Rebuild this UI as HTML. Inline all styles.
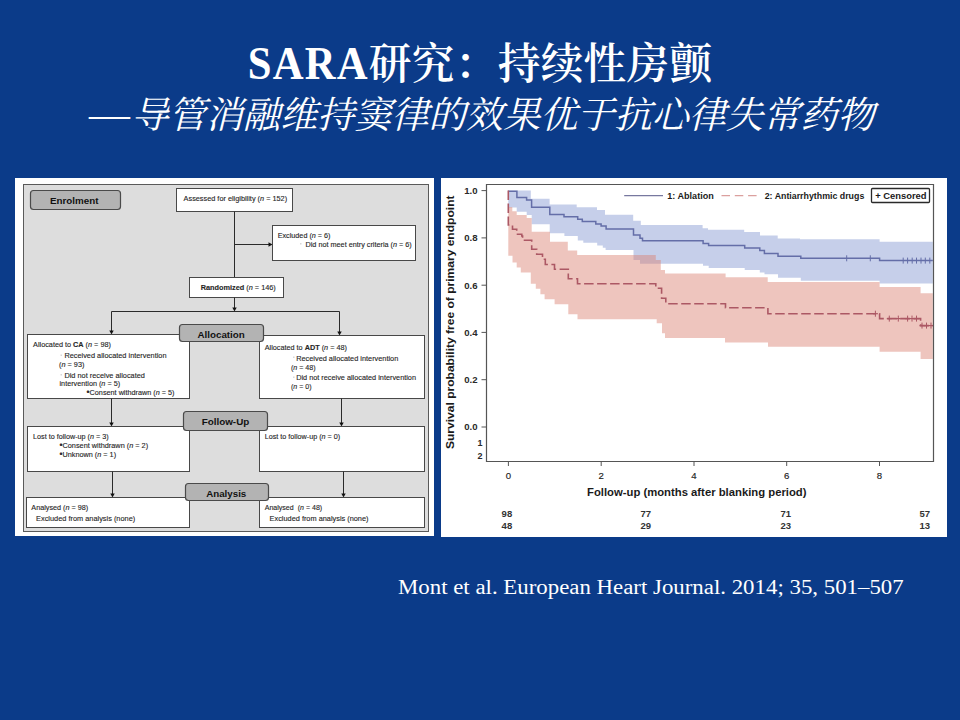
<!DOCTYPE html>
<html><head><meta charset="utf-8"><title>SARA研究：持续性房颤</title>
<style>
html,body{margin:0;padding:0;}
body{width:960px;height:720px;background:#0b3b89;position:relative;overflow:hidden;}
.t1{position:absolute;top:0;color:#fff;font-size:42.67px;line-height:1;white-space:nowrap;}
.t1 .lat{font-family:"Liberation Serif",serif;font-weight:bold;letter-spacing:1.25px;display:inline-block;transform:scaleY(1.07);transform-origin:0 35.7px;}
.t1 .cjk{font-family:"Noto Serif CJK SC",serif;font-weight:600;letter-spacing:0.3px;}
.t2 .dash{display:inline-block;transform:translateY(-1.5px) scaleX(1.235);transform-origin:0 50%;margin-right:9.8px;}
.t2{position:absolute;top:0;color:#fff;font-size:37.33px;line-height:1;font-style:italic;letter-spacing:-0.17px;white-space:nowrap;font-family:"Liberation Serif","Noto Serif CJK SC",serif;}
.cite{position:absolute;left:398.4px;top:0;color:#fff;font-family:"Liberation Serif",serif;font-size:21.6px;transform:scaleX(1.058);transform-origin:0 0;white-space:nowrap;line-height:1;}
svg{position:absolute;left:0;top:0;}
svg text{font-family:"Liberation Sans",Arial,sans-serif;}
</style></head>
<body>
<div class="t1" style="top:40px;left:247.7px"><span class="lat">SARA</span><span class="cjk">研究：持续性房颤</span></div>
<div class="t2" style="top:97px;left:88.5px"><span class="dash">—</span>导管消融维持窦律的效果优于抗心律失常药物</div>
<svg width="960" height="720" viewBox="0 0 960 720">
<rect x="15" y="178" width="419" height="358" rx="0" fill="#ffffff" stroke="none" stroke-width="0"/>
<rect x="23.5" y="184.5" width="405" height="347" rx="0" fill="#dddddd" stroke="#5a5a5a" stroke-width="1"/>
<rect x="30.5" y="190.5" width="90" height="19" rx="3" fill="#b3b3b3" stroke="#4a4a4a" stroke-width="1.2"/>
<text x="50" y="203.7" font-size="9.4" font-weight="bold" text-anchor="start" fill="#111" textLength="48.5" lengthAdjust="spacingAndGlyphs">Enrolment</text>
<rect x="176.5" y="188.5" width="116" height="23" rx="0" fill="#fff" stroke="#484848" stroke-width="1"/>
<text x="183.6" y="200.9" font-size="7.3" font-weight="normal" text-anchor="start" fill="#262626" textLength="103.5" lengthAdjust="spacingAndGlyphs" stroke="#262626" stroke-width="0.12">Assessed for eligibility (<tspan font-style="italic">n</tspan> = 152)</text>
<line x1="234.5" y1="211.5" x2="234.5" y2="277.5" stroke="#2a2a2a" stroke-width="1"/>
<line x1="234.5" y1="244.5" x2="269.5" y2="244.5" stroke="#2a2a2a" stroke-width="1"/><path d="M268.5 242.3 L268.5 246.7 L272.5 244.5 Z" fill="#111"/>
<rect x="272.5" y="225.5" width="143" height="35" rx="0" fill="#fff" stroke="#484848" stroke-width="1"/>
<text x="277.7" y="238.4" font-size="7.3" font-weight="normal" text-anchor="start" fill="#262626" textLength="52.8" lengthAdjust="spacingAndGlyphs" stroke="#262626" stroke-width="0.12">Excluded (<tspan font-style="italic">n</tspan> = 6)</text>
<text x="305.5" y="247.4" font-size="7.3" font-weight="normal" text-anchor="start" fill="#262626" textLength="106.3" lengthAdjust="spacingAndGlyphs" stroke="#262626" stroke-width="0.12">Did not meet entry criteria (<tspan font-style="italic">n</tspan> = 6)</text>
<rect x="189.5" y="277.5" width="94" height="20" rx="0" fill="#fff" stroke="#484848" stroke-width="1"/>
<text x="200.7" y="290.1" font-size="7.3" font-weight="normal" text-anchor="start" fill="#262626" textLength="75.1" lengthAdjust="spacingAndGlyphs" stroke="#262626" stroke-width="0.12"><tspan font-weight="bold">Randomized</tspan> (<tspan font-style="italic">n</tspan> = 146)</text>
<line x1="234.5" y1="297.5" x2="234.5" y2="308.5" stroke="#2a2a2a" stroke-width="1"/><path d="M232.3 307.5 L236.7 307.5 L234.5 311.5 Z" fill="#111"/>
<line x1="111.5" y1="311.5" x2="339.5" y2="311.5" stroke="#2a2a2a" stroke-width="1"/>
<line x1="111.5" y1="311.5" x2="111.5" y2="331.5" stroke="#2a2a2a" stroke-width="1"/><path d="M109.3 330.5 L113.7 330.5 L111.5 334.5 Z" fill="#111"/>
<line x1="339.5" y1="311.5" x2="339.5" y2="332.5" stroke="#2a2a2a" stroke-width="1"/><path d="M337.3 331.5 L341.7 331.5 L339.5 335.5 Z" fill="#111"/>
<rect x="27.5" y="334.5" width="162" height="64" rx="0" fill="#fff" stroke="#484848" stroke-width="1"/>
<rect x="259.5" y="335.5" width="165" height="63" rx="0" fill="#fff" stroke="#484848" stroke-width="1"/>
<rect x="179.5" y="324.5" width="84" height="17" rx="3" fill="#b3b3b3" stroke="#4a4a4a" stroke-width="1.2"/>
<text x="197.5" y="337.6" font-size="9.4" font-weight="bold" text-anchor="start" fill="#111" textLength="47.3" lengthAdjust="spacingAndGlyphs">Allocation</text>
<text x="33.1" y="347.4" font-size="7.3" font-weight="normal" text-anchor="start" fill="#262626" textLength="77.8" lengthAdjust="spacingAndGlyphs" stroke="#262626" stroke-width="0.12">Allocated to <tspan font-weight="bold">CA</tspan> (<tspan font-style="italic">n</tspan> = 98)</text>
<text x="64.4" y="358" font-size="7.3" font-weight="normal" text-anchor="start" fill="#262626" textLength="102.1" lengthAdjust="spacingAndGlyphs" stroke="#262626" stroke-width="0.12">Received allocated intervention</text>
<text x="59.1" y="366.9" font-size="7.3" font-weight="normal" text-anchor="start" fill="#262626" textLength="25.3" lengthAdjust="spacingAndGlyphs" stroke="#262626" stroke-width="0.12">(<tspan font-style="italic">n</tspan> = 93)</text>
<text x="64.4" y="377.5" font-size="7.3" font-weight="normal" text-anchor="start" fill="#262626" textLength="80.5" lengthAdjust="spacingAndGlyphs" stroke="#262626" stroke-width="0.12">Did not receive allocated</text>
<text x="59.5" y="386.4" font-size="7.3" font-weight="normal" text-anchor="start" fill="#262626" textLength="60.6" lengthAdjust="spacingAndGlyphs" stroke="#262626" stroke-width="0.12">intervention (<tspan font-style="italic">n</tspan> = 5)</text>
<text x="86.6" y="394.9" font-size="7.3" font-weight="normal" text-anchor="start" fill="#262626" textLength="87.9" lengthAdjust="spacingAndGlyphs" stroke="#262626" stroke-width="0.12"><tspan font-size="8.6" dy="0.5">•</tspan><tspan dy="-0.5">Consent withdrawn</tspan> (<tspan font-style="italic">n</tspan> = 5)</text>
<text x="264.7" y="350" font-size="7.3" font-weight="normal" text-anchor="start" fill="#262626" textLength="82.2" lengthAdjust="spacingAndGlyphs" stroke="#262626" stroke-width="0.12">Allocated to <tspan font-weight="bold">ADT</tspan> (<tspan font-style="italic">n</tspan> = 48)</text>
<text x="296.2" y="360.7" font-size="7.3" font-weight="normal" text-anchor="start" fill="#262626" textLength="102.1" lengthAdjust="spacingAndGlyphs" stroke="#262626" stroke-width="0.12">Received allocated intervention</text>
<text x="290.9" y="369.9" font-size="7.3" font-weight="normal" text-anchor="start" fill="#262626" textLength="24.7" lengthAdjust="spacingAndGlyphs" stroke="#262626" stroke-width="0.12">(<tspan font-style="italic">n</tspan> = 48)</text>
<text x="296.2" y="380.1" font-size="7.3" font-weight="normal" text-anchor="start" fill="#262626" textLength="119.8" lengthAdjust="spacingAndGlyphs" stroke="#262626" stroke-width="0.12">Did not receive allocated intervention</text>
<text x="290.9" y="388.5" font-size="7.3" font-weight="normal" text-anchor="start" fill="#262626" textLength="20.6" lengthAdjust="spacingAndGlyphs" stroke="#262626" stroke-width="0.12">(<tspan font-style="italic">n</tspan> = 0)</text>
<rect x="300" y="243" width="1.5" height="1.5" fill="#d8d8d8"/>
<rect x="60.5" y="354.5" width="1.5" height="1.5" fill="#d8d8d8"/>
<rect x="60.5" y="374" width="1.5" height="1.5" fill="#d8d8d8"/>
<rect x="293" y="356.5" width="1.5" height="1.5" fill="#d8d8d8"/>
<rect x="293" y="376.5" width="1.5" height="1.5" fill="#d8d8d8"/>
<rect x="32.5" y="517" width="1.5" height="1.5" fill="#d8d8d8"/>
<rect x="266" y="517" width="1.5" height="1.5" fill="#d8d8d8"/>
<line x1="111.5" y1="398.5" x2="111.5" y2="423.5" stroke="#2a2a2a" stroke-width="1"/><path d="M109.3 422.5 L113.7 422.5 L111.5 426.5 Z" fill="#111"/>
<line x1="341.5" y1="398.5" x2="341.5" y2="423.5" stroke="#2a2a2a" stroke-width="1"/><path d="M339.3 422.5 L343.7 422.5 L341.5 426.5 Z" fill="#111"/>
<rect x="27.5" y="426.5" width="162" height="45" rx="0" fill="#fff" stroke="#484848" stroke-width="1"/>
<rect x="259.5" y="426.5" width="165" height="45" rx="0" fill="#fff" stroke="#484848" stroke-width="1"/>
<rect x="183.5" y="411.5" width="84" height="19" rx="3" fill="#b3b3b3" stroke="#4a4a4a" stroke-width="1.2"/>
<text x="201.7" y="425" font-size="9.4" font-weight="bold" text-anchor="start" fill="#111" textLength="47.6" lengthAdjust="spacingAndGlyphs">Follow-Up</text>
<text x="33.1" y="439" font-size="7.3" font-weight="normal" text-anchor="start" fill="#262626" textLength="75.5" lengthAdjust="spacingAndGlyphs" stroke="#262626" stroke-width="0.12">Lost to follow-up (<tspan font-style="italic">n</tspan> = 3)</text>
<text x="59.5" y="447.8" font-size="7.3" font-weight="normal" text-anchor="start" fill="#262626" textLength="88.6" lengthAdjust="spacingAndGlyphs" stroke="#262626" stroke-width="0.12"><tspan font-size="8.6" dy="0.5">•</tspan><tspan dy="-0.5">Consent withdrawn</tspan> (<tspan font-style="italic">n</tspan> = 2)</text>
<text x="59.5" y="456.9" font-size="7.3" font-weight="normal" text-anchor="start" fill="#262626" textLength="56.6" lengthAdjust="spacingAndGlyphs" stroke="#262626" stroke-width="0.12"><tspan font-size="8.6" dy="0.5">•</tspan><tspan dy="-0.5">Unknown</tspan> (<tspan font-style="italic">n</tspan> = 1)</text>
<text x="264.7" y="439" font-size="7.3" font-weight="normal" text-anchor="start" fill="#262626" textLength="75.5" lengthAdjust="spacingAndGlyphs" stroke="#262626" stroke-width="0.12">Lost to follow-up (<tspan font-style="italic">n</tspan> = 0)</text>
<line x1="112.5" y1="471.5" x2="112.5" y2="494.5" stroke="#2a2a2a" stroke-width="1"/><path d="M110.3 493.5 L114.7 493.5 L112.5 497.5 Z" fill="#111"/>
<line x1="343.5" y1="471.5" x2="343.5" y2="494.5" stroke="#2a2a2a" stroke-width="1"/><path d="M341.3 493.5 L345.7 493.5 L343.5 497.5 Z" fill="#111"/>
<rect x="26.5" y="497.5" width="163" height="30" rx="0" fill="#fff" stroke="#484848" stroke-width="1"/>
<rect x="259.5" y="497.5" width="165" height="30" rx="0" fill="#fff" stroke="#484848" stroke-width="1"/>
<rect x="185.5" y="483.5" width="83" height="17" rx="3" fill="#b3b3b3" stroke="#4a4a4a" stroke-width="1.2"/>
<text x="206.2" y="496.7" font-size="9.4" font-weight="bold" text-anchor="start" fill="#111" textLength="40.1" lengthAdjust="spacingAndGlyphs">Analysis</text>
<text x="31.3" y="510.4" font-size="7.3" font-weight="normal" text-anchor="start" fill="#262626" textLength="57" lengthAdjust="spacingAndGlyphs" stroke="#262626" stroke-width="0.12">Analysed (<tspan font-style="italic">n</tspan> = 98)</text>
<text x="36.1" y="520.7" font-size="7.3" font-weight="normal" text-anchor="start" fill="#262626" textLength="99.1" lengthAdjust="spacingAndGlyphs" stroke="#262626" stroke-width="0.12">Excluded from analysis (none)</text>
<text x="264.7" y="510.4" font-size="7.3" font-weight="normal" text-anchor="start" fill="#262626" textLength="57.5" lengthAdjust="spacingAndGlyphs" stroke="#262626" stroke-width="0.12">Analysed&#160; (<tspan font-style="italic">n</tspan> = 48)</text>
<text x="269.6" y="520.7" font-size="7.3" font-weight="normal" text-anchor="start" fill="#262626" textLength="98.9" lengthAdjust="spacingAndGlyphs" stroke="#262626" stroke-width="0.12">Excluded from analysis (none)</text>
<rect x="441" y="178" width="506" height="359" rx="0" fill="#ffffff" stroke="none" stroke-width="0"/>
<path d="M508.3 190.6 H530.8 V198.7 H549.6 V204.6 H576.7 V207.2 H597 V210 H605 V214.8 H633.2 V220.8 H640.8 V225.1 H702.6 V228.3 H708 V229.8 H744.2 V232 H760 V235.4 H777.7 V238.6 H800 V239.3 H879.6 V241.7 H932.8 V283.6 H879.6 V280.8 H800.8 V277.8 H778 V274.2 H764.5 V272.6 H759.8 V270 H744.7 V267.9 H708.7 V265.8 H703 V263.8 H640 V260 H633.5 V250 H605.6 V247.8 H602.8 V245.6 H597.2 V242.8 H583.3 V240.6 H577.8 V236.1 H564.4 V233.3 H549.7 V224.2 H531.7 V215 H526.7 V211.7 H516.7 V207.5 H508.3 Z" fill="rgb(198,207,234)"/>
<path d="M508.3 207 H512.3 V211.3 H516.7 V215 H526.7 V218 H531.7 V231.7 H550 V241.8 H567.8 V250.6 H577.2 V255 H655.8 V260 H660.8 V270 H665 V273.4 H725.6 V277.3 H767.7 V282 H879.6 V287 H920.6 V293.3 H932.8 V358.9 H920.6 V351.7 H879.6 V346.8 H768 V342.6 H725 V338 H665 V333.3 H662 V323.3 H656.7 V319.2 H577.5 V314.2 H568.3 V304.2 H554.6 V299.2 H544.6 V294.2 H540.4 V288.8 H535.8 V283.8 H530.8 V272.5 H520.8 V267.5 H516.7 V262.5 H512.5 V255.8 H508.3 Z" fill="rgb(218,129,114)" fill-opacity="0.46"/>
<path d="M508.3 191.2 H516.9 V197.4 H526.6 V199.9 H531.6 V207.3 H549.8 V214.5 H564 V216.7 H577.7 V219.2 H582.3 V221.4 H595.8 V223.9 H601.1 V226.1 H606.1 V228.9 H633.5 V235 H640 V238.3 H642.5 V240.8 H703.1 V243.4 H708.6 V245.6 H744.7 V247.9 H759.8 V250.4 H764.4 V253.4 H778 V256.3 H800.8 V258.3 H879.6 V260.6 H932.8" fill="none" stroke="rgb(100,110,168)" stroke-width="1.5"/>
<path d="M508.3 190.6 V225 H512.5 V229.2 H516.7 V234.2 H521.8 V236 H522.6 V240.2 H531.7 V249.2 H536.7 V254.2 H542.5 V259.2 H545.3 V264.5 H554.5 V269.3 H568.3 V278.8 H577.5 V283.8 H655.8 V288.2 H661.6 V298.3 H665.8 V303.7 H725.5 V307.8 H767.9 V313.7 H879.6 V318.6 H920.6 V325.6 H932.8" fill="none" stroke="rgb(172,88,100)" stroke-width="1.6" stroke-dasharray="9.5 3.5"/>
<line x1="846.7" y1="255.3" x2="846.7" y2="261.3" stroke="rgb(100,110,168)" stroke-width="1"/>
<line x1="870.3" y1="255.3" x2="870.3" y2="261.3" stroke="rgb(100,110,168)" stroke-width="1"/>
<line x1="903.2" y1="257.6" x2="903.2" y2="263.6" stroke="rgb(100,110,168)" stroke-width="1"/>
<line x1="907.6" y1="257.6" x2="907.6" y2="263.6" stroke="rgb(100,110,168)" stroke-width="1"/>
<line x1="912.2" y1="257.6" x2="912.2" y2="263.6" stroke="rgb(100,110,168)" stroke-width="1"/>
<line x1="916.5" y1="257.6" x2="916.5" y2="263.6" stroke="rgb(100,110,168)" stroke-width="1"/>
<line x1="921" y1="257.6" x2="921" y2="263.6" stroke="rgb(100,110,168)" stroke-width="1"/>
<line x1="925.3" y1="257.6" x2="925.3" y2="263.6" stroke="rgb(100,110,168)" stroke-width="1"/>
<line x1="929.8" y1="257.6" x2="929.8" y2="263.6" stroke="rgb(100,110,168)" stroke-width="1"/>
<line x1="875.4" y1="310.7" x2="875.4" y2="316.7" stroke="rgb(172,88,100)" stroke-width="1"/>
<line x1="872.9" y1="313.7" x2="877.9" y2="313.7" stroke="rgb(172,88,100)" stroke-width="1.2"/>
<line x1="889.3" y1="315.6" x2="889.3" y2="321.6" stroke="rgb(172,88,100)" stroke-width="1"/>
<line x1="886.8" y1="318.6" x2="891.8" y2="318.6" stroke="rgb(172,88,100)" stroke-width="1.2"/>
<line x1="898.3" y1="315.6" x2="898.3" y2="321.6" stroke="rgb(172,88,100)" stroke-width="1"/>
<line x1="895.8" y1="318.6" x2="900.8" y2="318.6" stroke="rgb(172,88,100)" stroke-width="1.2"/>
<line x1="907.6" y1="315.6" x2="907.6" y2="321.6" stroke="rgb(172,88,100)" stroke-width="1"/>
<line x1="905.1" y1="318.6" x2="910.1" y2="318.6" stroke="rgb(172,88,100)" stroke-width="1.2"/>
<line x1="912" y1="315.6" x2="912" y2="321.6" stroke="rgb(172,88,100)" stroke-width="1"/>
<line x1="909.5" y1="318.6" x2="914.5" y2="318.6" stroke="rgb(172,88,100)" stroke-width="1.2"/>
<line x1="916.5" y1="315.6" x2="916.5" y2="321.6" stroke="rgb(172,88,100)" stroke-width="1"/>
<line x1="914" y1="318.6" x2="919" y2="318.6" stroke="rgb(172,88,100)" stroke-width="1.2"/>
<line x1="922" y1="322.6" x2="922" y2="328.6" stroke="rgb(172,88,100)" stroke-width="1"/>
<line x1="919.5" y1="325.6" x2="924.5" y2="325.6" stroke="rgb(172,88,100)" stroke-width="1.2"/>
<line x1="926.5" y1="322.6" x2="926.5" y2="328.6" stroke="rgb(172,88,100)" stroke-width="1"/>
<line x1="924" y1="325.6" x2="929" y2="325.6" stroke="rgb(172,88,100)" stroke-width="1.2"/>
<line x1="931" y1="322.6" x2="931" y2="328.6" stroke="rgb(172,88,100)" stroke-width="1"/>
<line x1="928.5" y1="325.6" x2="933.5" y2="325.6" stroke="rgb(172,88,100)" stroke-width="1.2"/>
<path d="M486.5 184.5 H933.5 V461.5 H486.5 Z" fill="none" stroke="#555" stroke-width="1.2"/>
<line x1="481.5" y1="427" x2="486.5" y2="427" stroke="#555" stroke-width="1"/>
<text x="477.6" y="430.4" font-size="9.6" font-weight="bold" text-anchor="end" fill="#2a2a2a">0.0</text>
<line x1="481.5" y1="379.7" x2="486.5" y2="379.7" stroke="#555" stroke-width="1"/>
<text x="477.6" y="383.1" font-size="9.6" font-weight="bold" text-anchor="end" fill="#2a2a2a">0.2</text>
<line x1="481.5" y1="332.4" x2="486.5" y2="332.4" stroke="#555" stroke-width="1"/>
<text x="477.6" y="335.8" font-size="9.6" font-weight="bold" text-anchor="end" fill="#2a2a2a">0.4</text>
<line x1="481.5" y1="285.2" x2="486.5" y2="285.2" stroke="#555" stroke-width="1"/>
<text x="477.6" y="288.6" font-size="9.6" font-weight="bold" text-anchor="end" fill="#2a2a2a">0.6</text>
<line x1="481.5" y1="237.9" x2="486.5" y2="237.9" stroke="#555" stroke-width="1"/>
<text x="477.6" y="241.3" font-size="9.6" font-weight="bold" text-anchor="end" fill="#2a2a2a">0.8</text>
<line x1="481.5" y1="190.6" x2="486.5" y2="190.6" stroke="#555" stroke-width="1"/>
<text x="477.6" y="194" font-size="9.6" font-weight="bold" text-anchor="end" fill="#2a2a2a">1.0</text>
<text x="482.6" y="446.2" font-size="9" font-weight="bold" text-anchor="end" fill="#2a2a2a">1</text>
<text x="482.6" y="458.8" font-size="9" font-weight="bold" text-anchor="end" fill="#2a2a2a">2</text>
<line x1="508.4" y1="461.5" x2="508.4" y2="466" stroke="#555" stroke-width="1"/>
<text x="508.4" y="478.7" font-size="9.6" font-weight="normal" text-anchor="middle" fill="#222" stroke="#222" stroke-width="0.15">0</text>
<line x1="601.2" y1="461.5" x2="601.2" y2="466" stroke="#555" stroke-width="1"/>
<text x="601.2" y="478.7" font-size="9.6" font-weight="normal" text-anchor="middle" fill="#222" stroke="#222" stroke-width="0.15">2</text>
<line x1="694" y1="461.5" x2="694" y2="466" stroke="#555" stroke-width="1"/>
<text x="694" y="478.7" font-size="9.6" font-weight="normal" text-anchor="middle" fill="#222" stroke="#222" stroke-width="0.15">4</text>
<line x1="786.7" y1="461.5" x2="786.7" y2="466" stroke="#555" stroke-width="1"/>
<text x="786.7" y="478.7" font-size="9.6" font-weight="normal" text-anchor="middle" fill="#222" stroke="#222" stroke-width="0.15">6</text>
<line x1="879.5" y1="461.5" x2="879.5" y2="466" stroke="#555" stroke-width="1"/>
<text x="879.5" y="478.7" font-size="9.6" font-weight="normal" text-anchor="middle" fill="#222" stroke="#222" stroke-width="0.15">8</text>
<text x="587" y="495.6" font-size="11.2" font-weight="bold" text-anchor="start" fill="#1a1a1a" textLength="219.5" lengthAdjust="spacingAndGlyphs">Follow-up (months after blanking period)</text>
<text x="454.2" y="449" transform="rotate(-90 454.2 449)" font-size="11.8" font-weight="bold" fill="#1a1a1a" textLength="253.5" lengthAdjust="spacingAndGlyphs">Survival probability free of primary endpoint</text>
<text x="506.9" y="517.1" font-size="8.4" font-weight="bold" text-anchor="middle" fill="#333" textLength="10.6" lengthAdjust="spacingAndGlyphs">98</text>
<text x="506.9" y="528.9" font-size="8.4" font-weight="bold" text-anchor="middle" fill="#333" textLength="10.6" lengthAdjust="spacingAndGlyphs">48</text>
<text x="645.7" y="517.1" font-size="8.4" font-weight="bold" text-anchor="middle" fill="#333" textLength="10.6" lengthAdjust="spacingAndGlyphs">77</text>
<text x="645.7" y="528.9" font-size="8.4" font-weight="bold" text-anchor="middle" fill="#333" textLength="10.6" lengthAdjust="spacingAndGlyphs">29</text>
<text x="785.7" y="517.1" font-size="8.4" font-weight="bold" text-anchor="middle" fill="#333" textLength="10.6" lengthAdjust="spacingAndGlyphs">71</text>
<text x="785.7" y="528.9" font-size="8.4" font-weight="bold" text-anchor="middle" fill="#333" textLength="10.6" lengthAdjust="spacingAndGlyphs">23</text>
<text x="924.7" y="517.1" font-size="8.4" font-weight="bold" text-anchor="middle" fill="#333" textLength="10.6" lengthAdjust="spacingAndGlyphs">57</text>
<text x="924.7" y="528.9" font-size="8.4" font-weight="bold" text-anchor="middle" fill="#333" textLength="10.6" lengthAdjust="spacingAndGlyphs">13</text>
<line x1="624.2" y1="195.6" x2="663" y2="195.6" stroke="#77789f" stroke-width="1.3"/>
<text x="667.2" y="198.9" font-size="9.4" font-weight="bold" text-anchor="start" fill="#1a1a1a" textLength="46.6" lengthAdjust="spacingAndGlyphs">1: Ablation</text>
<path d="M721.5 195.6 H757" stroke="#dba09e" stroke-width="1.3" stroke-dasharray="8.5 4.8"/>
<text x="764.7" y="198.9" font-size="9.4" font-weight="bold" text-anchor="start" fill="#1a1a1a" textLength="99.6" lengthAdjust="spacingAndGlyphs">2: Antiarrhythmic drugs</text>
<rect x="871.5" y="188.5" width="58" height="14" rx="1" fill="#fff" stroke="#2a2a2a" stroke-width="1.3"/>
<text x="875.2" y="198.9" font-size="9.4" font-weight="bold" text-anchor="start" fill="#1a1a1a" textLength="51.4" lengthAdjust="spacingAndGlyphs">+ Censored</text>
</svg>
<div class="cite" style="top:576.5px">Mont et al. European Heart Journal. 2014; 35, 501–507</div>
</body></html>
